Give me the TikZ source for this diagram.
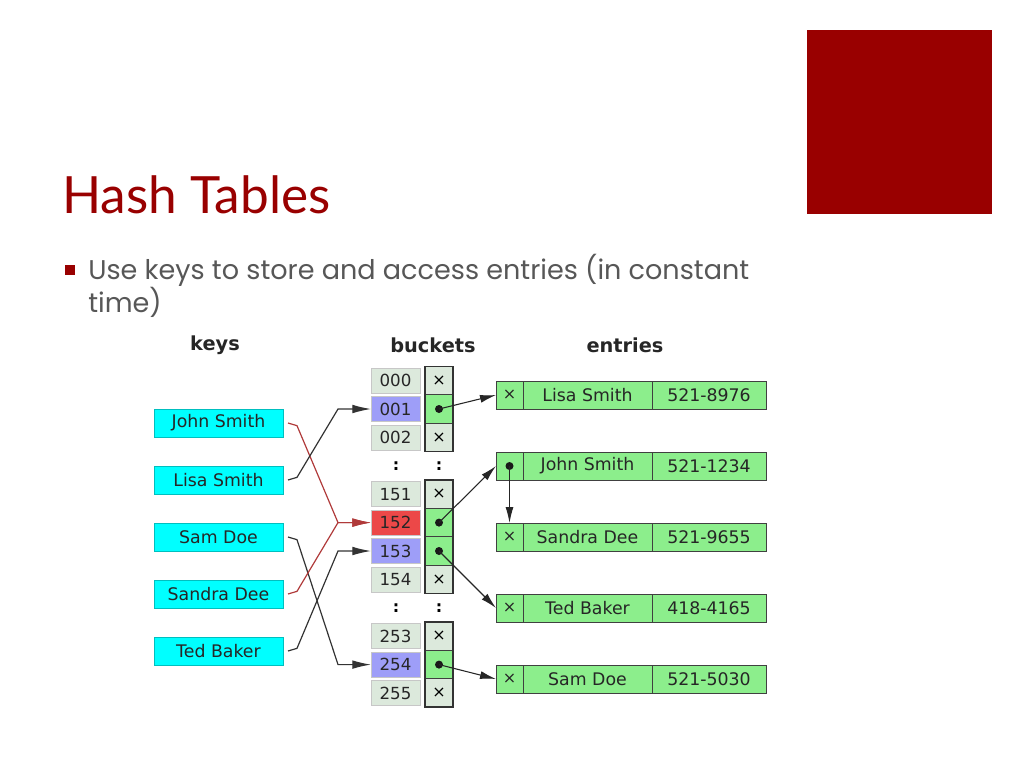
\documentclass[tikz,border=0pt]{standalone}
\usepackage{fontspec}
\setmainfont{Lato}[Ligatures=NoCommon]
\newfontfamily\bodyfont{Poppins}
\newfontfamily\diagfont{DejaVu Sans}
\usetikzlibrary{arrows.meta,positioning}
\definecolor{slidered}{HTML}{990000}
\definecolor{bodygrey}{HTML}{575757}
\definecolor{keycyan}{HTML}{00FFFF}
\definecolor{cellgreen}{HTML}{8CEE8C}
\definecolor{cellpale}{HTML}{DCE9DC}
\definecolor{hashblue}{HTML}{9E9EF8}
\definecolor{hashred}{HTML}{EC4848}
\definecolor{linkred}{HTML}{B03A3A}
\tikzset{
  keybox/.style={fill=keycyan, draw=keycyan!75!black, line width=0.4pt,
    minimum width=96.75pt, minimum height=21pt, inner sep=0pt, outer sep=0pt,
    text=black!85, font=\diagfont\fontsize{13}{15}\selectfont},
  idxbox/.style={fill=cellpale, draw=black!22, line width=0.5pt,
    minimum width=36.75pt, minimum height=18.75pt, inner sep=0pt, outer sep=0pt,
    text=black!85, font=\diagfont\fontsize{12.5}{14}\selectfont},
  ptrbox/.style={fill=cellpale, draw=black!75, line width=0.8pt,
    minimum width=21pt, minimum height=21.3pt, inner sep=0pt, outer sep=0pt,
    font=\diagfont\fontsize{12}{14}\selectfont},
  entrycell/.style={fill=cellgreen, draw=black!75, line width=0.6pt,
    minimum height=21pt, inner sep=0pt, outer sep=0pt,
    text=black!85, font=\diagfont\fontsize{13}{15}\selectfont},
  nilcell/.style={entrycell, minimum width=20.25pt, font=\diagfont\fontsize{12}{14}\selectfont},
  namecell/.style={entrycell, minimum width=96.75pt},
  numcell/.style={entrycell, minimum width=85.5pt},
  colhead/.style={font=\diagfont\bfseries\fontsize{14.5}{17}\selectfont, text=black!85},
  dots/.style={font=\diagfont\bfseries\fontsize{12}{14}\selectfont},
  keylink/.style={line width=0.9pt, black!80, -{Latex[length=14pt,width=6.5pt]}},
  ptrlink/.style={line width=0.8pt, black!85, -{Latex[length=12pt,width=6pt]}}
}

\begin{document}
\begin{tikzpicture}[x=0.75pt,y=-0.75pt]
\useasboundingbox (0,0) rectangle (1024,768);
% slide decoration
\fill[slidered] (807,30) rectangle (992,214);
\node[anchor=base west, inner sep=0pt, text=slidered, font=\fontsize{38.5}{46}\selectfont] (title) at (62,213) {Hash Tables};
\fill[slidered] (65,265) rectangle (75,275);
\node[anchor=base west, inner sep=0pt, text=bodygrey, font=\bodyfont\fontsize{20.3}{24}\selectfont] (line-a) at (88,279)
  {Use keys to store and access entries (in constant};
\node[anchor=base west, inner sep=0pt, text=bodygrey, font=\bodyfont\fontsize{20.3}{24}\selectfont] (line-b) at (88,312)
  {time)};

% column headings
\node[colhead] (hkeys) at (215,345) {keys};
\node[colhead] (hbuckets) at (433,345) {buckets};
\node[colhead] (hentries) at (625,345) {entries};

% keys
\node[keybox] (john) at (218.5,423) {John Smith};
\node[keybox] (lisa) at (218.5,480) {Lisa Smith};
\node[keybox] (sam) at (218.5,537) {Sam Doe};
\node[keybox] (sandra) at (218.5,594) {Sandra Dee};
\node[keybox] (ted) at (218.5,651) {Ted Baker};

% buckets: index + pointer cell
\node[idxbox] (b000) at (395.5,380.6) {000}; \node[ptrbox] (p000) at (439,380.6) {×};
\node[idxbox, fill=hashblue] (b001) at (395.5,409) {001}; \node[ptrbox, fill=cellgreen] (p001) at (439,409) {};
\node[idxbox] (b002) at (395.5,437.4) {002}; \node[ptrbox] (p002) at (439,437.4) {×};
\node[dots] (c1) at (396,465.8) {:}; \node[dots] (c2) at (439,465.8) {:};
\node[idxbox] (b151) at (395.5,494.2) {151}; \node[ptrbox] (p151) at (439,494.2) {×};
\node[idxbox, fill=hashred] (b152) at (395.5,522.6) {152}; \node[ptrbox, fill=cellgreen] (p152) at (439,522.6) {};
\node[idxbox, fill=hashblue] (b153) at (395.5,551) {153}; \node[ptrbox, fill=cellgreen] (p153) at (439,551) {};
\node[idxbox] (b154) at (395.5,579.4) {154}; \node[ptrbox] (p154) at (439,579.4) {×};
\node[dots] (c3) at (396,607.8) {:}; \node[dots] (c4) at (439,607.8) {:};
\node[idxbox] (b253) at (395.5,636.2) {253}; \node[ptrbox] (p253) at (439,636.2) {×};
\node[idxbox, fill=hashblue] (b254) at (395.5,664.6) {254}; \node[ptrbox, fill=cellgreen] (p254) at (439,664.6) {};
\node[idxbox] (b255) at (395.5,693) {255}; \node[ptrbox] (p255) at (439,693) {×};
\foreach \a/\b in {p000/p002,p151/p154,p253/p255}
  \draw[line width=1.1pt, black!80] (\a.north west) rectangle (\b.south east);

% entries
\node[nilcell] (lisa-x) at (509.5,395) {×};
\node[namecell, right=0pt of lisa-x] (lisa-n) {Lisa Smith};
\node[numcell, right=0pt of lisa-n] (lisa-p) {521-8976};
\node[nilcell] (john-x) at (509.5,466) {};
\node[namecell, right=0pt of john-x] (john-n) {John Smith};
\node[numcell, right=0pt of john-n] (john-p) {521-1234};
\node[nilcell] (sandra-x) at (509.5,537) {×};
\node[namecell, right=0pt of sandra-x] (sandra-n) {Sandra Dee};
\node[numcell, right=0pt of sandra-n] (sandra-p) {521-9655};
\node[nilcell] (ted-x) at (509.5,608) {×};
\node[namecell, right=0pt of ted-x] (ted-n) {Ted Baker};
\node[numcell, right=0pt of ted-n] (ted-p) {418-4165};
\node[nilcell] (sam-x) at (509.5,679) {×};
\node[namecell, right=0pt of sam-x] (sam-n) {Sam Doe};
\node[numcell, right=0pt of sam-n] (sam-p) {521-5030};

% hashing keys to buckets
\draw[keylink, linkred] ([xshift=3.75pt]john.east) -- ([xshift=10.5pt,yshift=-2pt]john.east)
  -- ([xshift=-24.75pt]b152.west) -- (b152.west);
\draw[keylink] ([xshift=3.75pt]lisa.east) -- ([xshift=10.5pt,yshift=2pt]lisa.east)
  -- ([xshift=-24.75pt]b001.west) -- (b001.west);
\draw[keylink] ([xshift=3.75pt]sam.east) -- ([xshift=10.5pt,yshift=-2pt]sam.east)
  -- ([xshift=-24.75pt]b254.west) -- (b254.west);
\draw[keylink, linkred] ([xshift=3.75pt]sandra.east) -- ([xshift=10.5pt,yshift=2pt]sandra.east)
  -- ([xshift=-24.75pt]b152.west) -- (b152.west);
\draw[keylink] ([xshift=3.75pt]ted.east) -- ([xshift=10.5pt,yshift=2pt]ted.east)
  -- ([xshift=-24.75pt]b153.west) -- (b153.west);

% bucket pointers
\foreach \p in {p001,p152,p153,p254,john-x} \fill[black!90] (\p.center) circle (3pt);
\draw[ptrlink] (p001.center) -- (lisa-x.west);
\draw[ptrlink] (p152.center) -- (john-x.west);
\draw[ptrlink] (p153.center) -- (ted-x.west);
\draw[ptrlink] (p254.center) -- (sam-x.west);
\draw[ptrlink] (john-x.center) -- (sandra-x.north);
\end{tikzpicture}
\end{document}
